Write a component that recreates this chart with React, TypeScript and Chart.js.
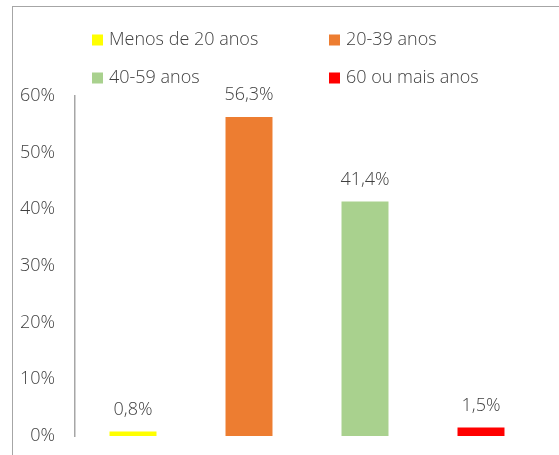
import React, { useEffect, useRef } from "react";
import { Chart, registerables } from "chart.js";

Chart.register(...registerables);

const categories = ["Menos de 20 anos", "20-39 anos", "40-59 anos", "60 ou mais anos"];
const values = [0.8, 56.3, 41.4, 1.5];
const colors = ["#FFFF00", "#ED7D31", "#A9D18E", "#FF0000"];
const yTicks = [0, 10, 20, 30, 40, 50, 60];

const FONT = "'Open Sans', 'DejaVu Sans', sans-serif";
const TEXT = "#404040";

const fmt = (v: number) => v.toFixed(1).replace(".", ",") + "%";

const legendPlugin = {
  id: "customLegend",
  afterDraw(chart: any) {
    const { ctx, chartArea } = chart;
    ctx.save();
    ctx.font = `300 18px ${FONT}`;
    ctx.textBaseline = "middle";
    ctx.textAlign = "left";
    chart.data.datasets.forEach((ds: any, i: number) => {
      const col = i % 2;
      const row = Math.floor(i / 2);
      const x = chartArea.left + 17 + col * 237;
      const y = 40 + row * 38;
      ctx.fillStyle = ds.backgroundColor;
      ctx.fillRect(x, y - 5.5, 11, 11);
      ctx.fillStyle = TEXT;
      ctx.fillText(ds.label, x + 17, y);
    });
    ctx.restore();
  },
};

const valueLabelPlugin = {
  id: "valueLabels",
  afterDatasetsDraw(chart: any) {
    const { ctx } = chart;
    ctx.save();
    ctx.font = `300 18px ${FONT}`;
    ctx.fillStyle = TEXT;
    ctx.textAlign = "center";
    ctx.textBaseline = "middle";
    chart.data.datasets.forEach((ds: any, i: number) => {
      const meta = chart.getDatasetMeta(i);
      meta.data.forEach((el: any, j: number) => {
        const v = ds.data[j];
        if (v == null) return;
        ctx.fillText(fmt(v), el.x, el.y - 22);
      });
    });
    ctx.restore();
  },
};

export default function App() {
  const ref = useRef<HTMLCanvasElement>(null);
  useEffect(() => {
    if (!ref.current) return;
    const datasets = categories.map((c, i) => ({
      label: c,
      data: categories.map((_, j) => (j === i ? values[i] : null)),
      backgroundColor: colors[i],
      borderWidth: 0,
      barPercentage: 0.405,
      categoryPercentage: 1,
    }));
    const chart = new Chart(ref.current, {
      type: "bar",
      data: { labels: categories, datasets },
      options: {
        animation: false,
        responsive: false,
        maintainAspectRatio: false,
        datasets: { bar: { grouped: false } } as any,
        layout: { padding: { top: 96, bottom: 19, right: 20, left: 0 } },
        plugins: { legend: { display: false }, tooltip: { enabled: false } },
        scales: {
          x: { display: false },
          y: {
            min: 0,
            max: 60,
            afterFit: (s: any) => {
              s.width = 75;
              s.paddingTop = 0;
              s.paddingBottom = 0;
            },
            afterBuildTicks: (s: any) => {
              s.ticks = yTicks.map((v) => ({ value: v }));
            },
            ticks: {
              padding: 20,
              color: TEXT,
              font: { family: FONT, size: 18, weight: "300" as any },
              callback: (v: any) => v + "%",
            },
            grid: { display: false, drawTicks: false },
            border: { display: true, color: "#A6A6A6", width: 1.5 },
          },
        },
      },
      plugins: [legendPlugin, valueLabelPlugin],
    });
    return () => chart.destroy();
  }, []);
  return (
    <div
      style={{
        position: "fixed",
        left: 0,
        top: 0,
        width: 559,
        height: 455,
        overflow: "hidden",
        background: "#fff",
      }}
    >
      <div
        style={{
          position: "absolute",
          left: 12,
          top: 6,
          width: 600,
          height: 500,
          borderLeft: "1.5px solid #A6A6A6",
          borderTop: "1.5px solid #A6A6A6",
        }}
      />
      <canvas
        ref={ref}
        width={559}
        height={455}
        style={{ position: "absolute", left: 0, top: 0, width: 559, height: 455 }}
      />
    </div>
  );
}
